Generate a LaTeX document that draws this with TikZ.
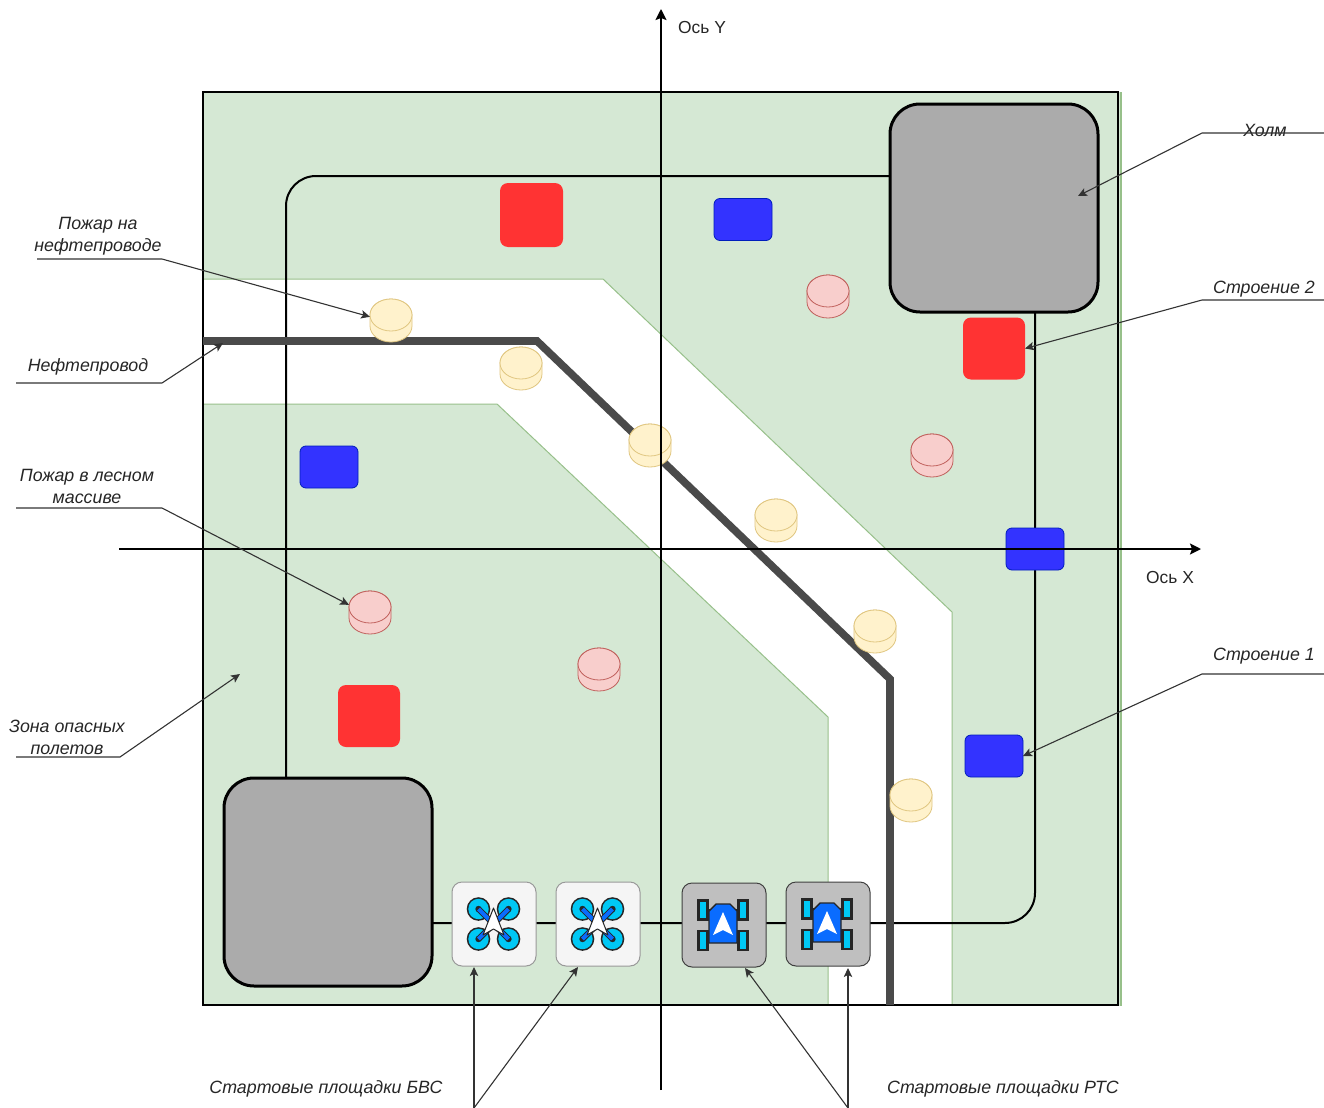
\documentclass[tikz,border=0pt]{standalone}
\usepackage{fontspec}
\setmainfont{Liberation Sans}
\usetikzlibrary{arrows.meta}
\definecolor{zone}{HTML}{D5E8D4}
\definecolor{zoneline}{HTML}{97C08A}
\definecolor{hillc}{HTML}{ABABAB}
\definecolor{redb}{HTML}{FF3333}
\definecolor{blueb}{HTML}{3333FF}
\definecolor{blueline}{HTML}{001DBC}
\definecolor{yelf}{HTML}{FFF2CC}
\definecolor{yell}{HTML}{E0C680}
\definecolor{pinkf}{HTML}{F8CECC}
\definecolor{pinkl}{HTML}{C0605C}
\definecolor{pipec}{HTML}{4A4A4A}
\definecolor{cyanc}{HTML}{00C8F5}
\definecolor{bluec}{HTML}{0A6CFF}
\tikzset{
  every node/.style={inner sep=0pt,outer sep=0pt},
  hill/.style={draw=black,fill=hillc,line width=1.5pt,rounded corners=15pt,minimum width=104pt,minimum height=104pt},
  redbox/.style={fill=redb,rounded corners=4pt,minimum width=31pt,minimum height=31pt},
  bluebox/.style={draw=blueline,fill=blueb,line width=.4pt,rounded corners=3pt,minimum width=29pt,minimum height=21pt},
  coinbox/.style={minimum width=21pt,minimum height=21.5pt},
  yc/.style={draw=yell,fill=yelf,line width=.4pt},
  pc/.style={draw=pinkl,fill=pinkf,line width=.4pt},
  dbox/.style={draw=black!40,fill=black!4,line width=.5pt,rounded corners=5pt,minimum width=42pt,minimum height=42pt},
  rbox/.style={draw=black!75,fill=black!25,line width=.5pt,rounded corners=5pt,minimum width=42pt,minimum height=42pt},
  road/.style={draw=black,line width=1pt},
  pipe/.style={draw=pipec,line width=3.8pt,line join=miter},
  axis/.style={draw=black,line width=1pt,-{Stealth[length=5.5pt,width=5.5pt,inset=1pt]}},
  leader/.style={draw=black!80,line width=.55pt,-{Stealth[length=4.5pt,width=4.2pt,inset=1pt]}},
  lab/.style={font=\fontsize{8.9pt}{11pt}\selectfont\itshape,text=black!85,align=center},
  axl/.style={font=\fontsize{8.7pt}{11pt}\selectfont,text=black!85},
  navarrow/.style={fill=white,draw=black!85,line width=.5pt,line join=round}
}
\newcommand{\coin}[4]{%
  \node[coinbox] (#1) at (#2,#3) {};
  \path[#4] (#2-21,#3-5.5) -- (#2-21,#3+5.5) arc[start angle=180,end angle=360,x radius=10.5pt,y radius=8pt] -- (#2+21,#3-5.5) arc[start angle=0,end angle=-180,x radius=10.5pt,y radius=-8pt] -- cycle;
  \path[#4] (#2,#3-5.5) ellipse[x radius=10.5pt,y radius=8pt];
}
\newcommand{\drone}[3]{%
  \node[dbox] (#1) at (#2,#3) {};
  \begin{scope}[shift={(#2-0.5,#3)}]
    \foreach \sx/\sy in {-1/-1,1/-1,-1/1,1/1}{
      \fill[black!85] (\sx*15,\sy*15) circle[radius=5.9pt];
      \fill[cyanc] (\sx*15,\sy*15) circle[radius=5.1pt];
      \fill[black!85] (\sx*15,\sy*15) circle[radius=1.6pt];
      \draw[black!85,line width=3pt] (0,0) -- (\sx*15,\sy*15);
      \draw[bluec,line width=2pt] (0,0) -- (\sx*15,\sy*15);
    }
    \path[navarrow] (0,-16) -- (10.5,11) -- (0,5) -- (-10.5,11) -- cycle;
  \end{scope}
}
\newcommand{\robot}[3]{%
  \node[rbox] (#1) at (#2,#3) {};
  \begin{scope}[shift={(#2-1,#3)}]
    \draw[black!85,line width=1.4pt] (-20,-15) -- (20,-15) (-20,12) -- (20,12);
    \foreach \sx/\sy in {-1/-15,1/-15,-1/15.5,1/15.5}{
      \path[draw=black!85,fill=cyanc,line width=1.4pt] (\sx*20-4.5,\sy-9.5) rectangle (\sx*20+4.5,\sy+9.5);
    }
    \path[draw=black!85,fill=bluec,line width=.7pt] (-14,-14) -- (-7,-21) -- (7,-21) -- (14,-14) -- (14,18) -- (-14,18) -- cycle;
    \fill[white] (0,-13) -- (10,10) -- (0,5) -- (-10,10) -- cycle;
  \end{scope}
}
\begin{document}
\begin{tikzpicture}[x=.5pt,y=-.5pt]
\useasboundingbox (0,0) rectangle (1324,1108);
% terrain
\fill[zone] (203,92) rectangle (1122,1006);
\fill[zoneline] (1119.5,92) rectangle (1122,1006);
\fill[white] (203,279) -- (603,279) -- (952,612) -- (952,1006) -- (828,1006) -- (828,717) -- (497,404) -- (203,404) -- cycle;
\draw[zoneline,line width=.5pt] (203,279) -- (603,279) -- (952,612) -- (952,1005);
\draw[zoneline,line width=.5pt] (203,404) -- (497,404) -- (828,717) -- (828,1005);
\draw[black,line width=1pt] (203,92) rectangle (1118,1005);
% roads
\coordinate (rB) at (890,176);
\coordinate (rA) at (286,778);
\coordinate (rC) at (1035,312);
\coordinate (rD) at (433,923);
\draw[road,rounded corners=15pt] (rB) -- (286,176) -- (rA);
\draw[road,rounded corners=15pt] (rC) -- (1035,923) -- (rD);
% pipeline
\coordinate (p0) at (203,341);
\coordinate (p3) at (890,1005);
\draw[pipe] (p0) -- (537,341) -- (890,679) -- (p3);
% hills
\node[hill] (hillA) at (328,882) {};
\node[hill] (hillB) at (994,208) {};
% buildings
\node[redbox,minimum width=31.5pt,minimum height=32pt] (r1) at (531.5,215) {};
\node[redbox] (r2) at (369,716) {};
\node[redbox] (r3) at (994,348.5) {};
\node[bluebox] (b1) at (743,219.5) {};
\node[bluebox] (b2) at (329,467) {};
\node[bluebox] (b3) at (1035,549) {};
\node[bluebox] (b4) at (994,756) {};
% fires
\coin{y1}{391}{320.5}{yc}
\coin{y2}{521}{368.5}{yc}
\coin{y3}{650}{445.5}{yc}
\coin{y4}{776}{520.5}{yc}
\coin{y5}{875}{631.5}{yc}
\coin{y6}{911}{800.5}{yc}
\coin{p1}{828}{296.5}{pc}
\coin{p2}{932}{455.5}{pc}
\coin{p3c}{370}{612.5}{pc}
\coin{p4}{599}{669.5}{pc}
% axes
\coordinate (ya) at (661,1090);
\coordinate (yb) at (661,9);
\coordinate (xa) at (119,549);
\coordinate (xb) at (1201,549);
\draw[axis] (ya) -- (yb);
\draw[axis] (xa) -- (xb);
% launch pads
\drone{d1}{494}{924}
\drone{d2}{598}{924}
\robot{t1}{724}{925}
\robot{t2}{828}{924}
% labels
\node[axl] (lY) at (702,28) {Ось Y};
\node[axl] (lX) at (1170,578) {Ось X};
\node[lab] (lHill) at (1265,130.5) {Холм};
\node[lab] (lS2) at (1264,289) {Строение 2};
\node[lab] (lS1) at (1264,656) {Строение 1};
\node[lab] (lFp) at (98,236) {Пожар на\\нефтепроводе};
\node[lab] (lPipe) at (88,367) {Нефтепровод};
\node[lab] (lFf) at (87,486) {Пожар в лесном\\массиве};
\node[lab] (lZone) at (67,737) {Зона опасных\\полетов};
\node[lab] (lBvs) at (326,1089) {Стартовые площадки БВС};
\node[lab] (lRts) at (1003,1089) {Стартовые площадки РТС};
% leaders
\coordinate (a1) at (1324,133); \coordinate (a2) at (1202,133); \coordinate (a3) at (1078,196);
\draw[leader] (a1) -- (a2) -- (a3);
\coordinate (c1) at (1324,300); \coordinate (c2) at (1202,300);
\draw[leader] (c1) -- (c2) -- (r3.east);
\coordinate (e1) at (1324,674); \coordinate (e2) at (1202,674);
\draw[leader] (e1) -- (e2) -- (b4.east);
\coordinate (f1) at (37,259); \coordinate (f2) at (162,259);
\draw[leader] (f1) -- (f2) -- (y1.170);
\coordinate (g1) at (16,383); \coordinate (g2) at (162,383); \coordinate (g3) at (223,343);
\draw[leader] (g1) -- (g2) -- (g3);
\coordinate (h1) at (16,508); \coordinate (h2) at (162,508);
\draw[leader] (h1) -- (h2) -- (p3c.160);
\coordinate (i1) at (16,757); \coordinate (i2) at (120,757); \coordinate (i3) at (240,674);
\draw[leader] (i1) -- (i2) -- (i3);
\coordinate (j) at (474,1108);
\coordinate (k) at (848,1108);
\coordinate (jd1) at (474,967);
\coordinate (jd2) at (578,967);
\coordinate (kt1) at (745,968);
\coordinate (kt2) at (848,968);
\draw[leader] (j) -- (jd1);
\draw[leader] (j) -- (jd2);
\draw[leader] (k) -- (kt1);
\draw[leader] (k) -- (kt2);
\end{tikzpicture}
\end{document}
